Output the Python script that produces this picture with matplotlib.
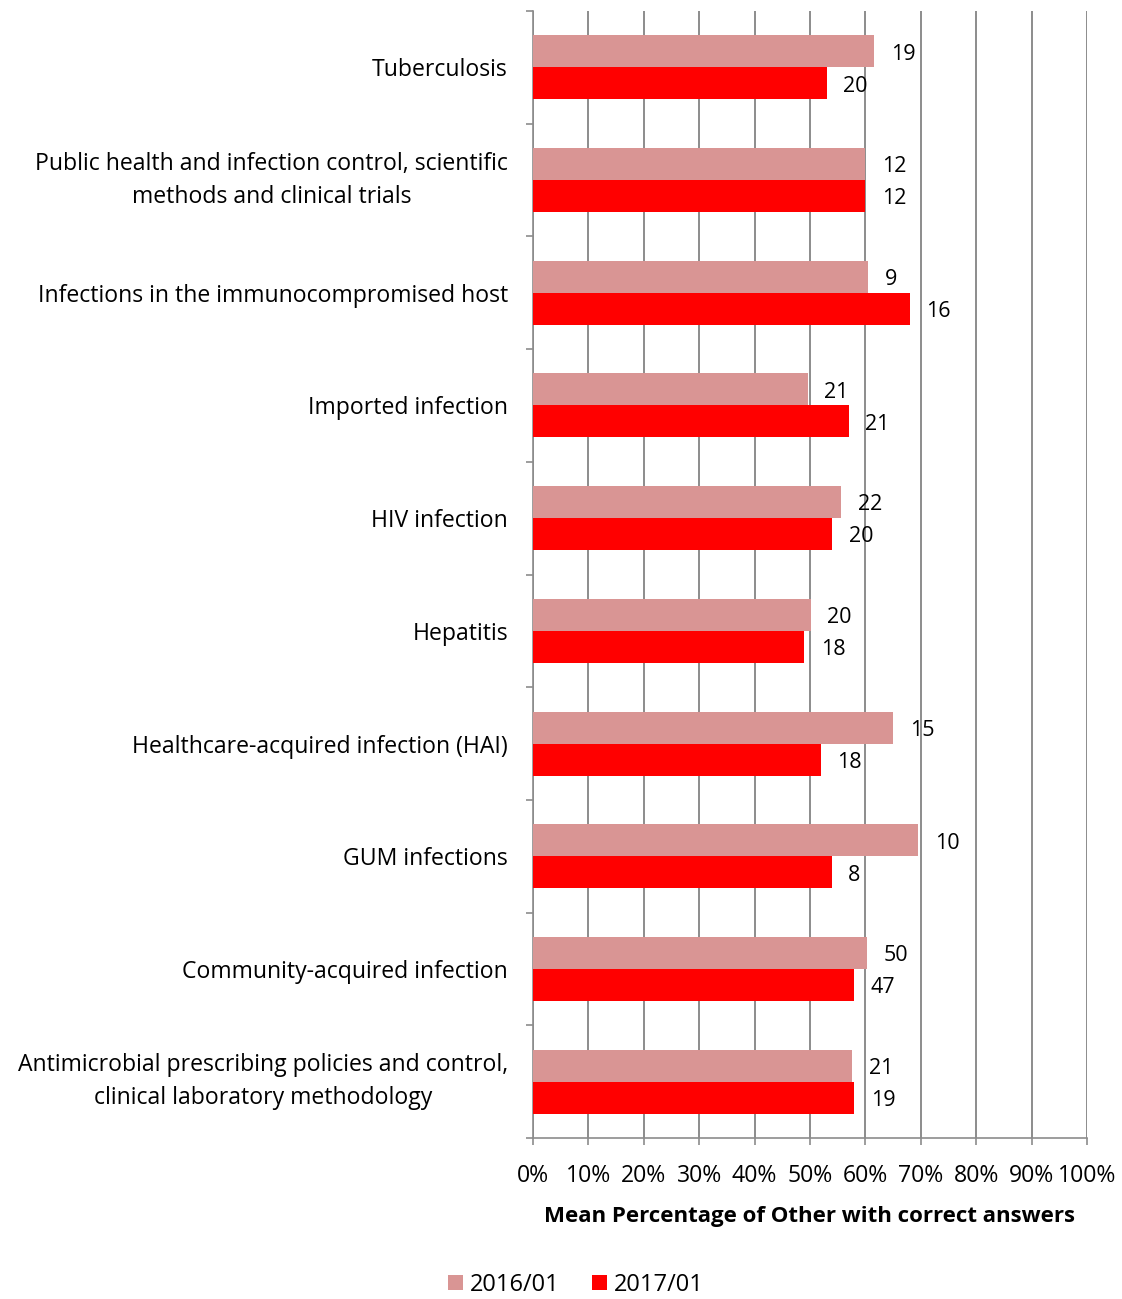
import matplotlib
matplotlib.use("Agg")
import matplotlib.pyplot as plt
import numpy as np

plt.rcParams['font.family'] = ['Open Sans', 'DejaVu Sans']

categories = [
    "Tuberculosis",
    "Public health and infection control, scientific\nmethods and clinical trials",
    "Infections in the immunocompromised host",
    "Imported infection",
    "HIV infection",
    "Hepatitis",
    "Healthcare-acquired infection (HAI)",
    "GUM infections",
    "Community-acquired infection",
    "Antimicrobial prescribing policies and control,\nclinical laboratory methodology",
]
pct_2016 = [61.6, 60.0, 60.5, 49.6, 55.6, 50.1, 65.0, 69.5, 60.3, 57.6]
pct_2017 = [53.0, 60.0, 68.0, 57.0, 54.0, 49.0, 51.9, 53.9, 58.0, 58.0]
n_2016 = [19, 12, 9, 21, 22, 20, 15, 10, 50, 21]
n_2017 = [20, 12, 16, 21, 20, 18, 18, 8, 47, 19]
x_ticks = [0, 10, 20, 30, 40, 50, 60, 70, 80, 90, 100]

c16 = "#D99594"
c17 = "#FF0000"
grid_c = "#8C8C8C"
fs = 16.6

fig = plt.figure(figsize=(11.22, 12.99), dpi=100)
ax = fig.add_axes([533 / 1122, 1 - 1138 / 1299, (1087 - 533) / 1122, (1138 - 11) / 1299])

y = np.arange(len(categories))
h = 0.284
b16 = ax.barh(y - h / 2, pct_2016, height=h, color=c16, label="2016/01", zorder=3)
b17 = ax.barh(y + h / 2, pct_2017, height=h, color=c17, label="2017/01", zorder=3)

for yy, v, n in zip(y - h / 2, pct_2016, n_2016):
    ax.annotate(str(n), xy=(v, yy), xytext=(12, -2), textcoords="offset points",
                ha="left", va="center", fontsize=15.5, zorder=4)
for yy, v, n in zip(y + h / 2, pct_2017, n_2017):
    ax.annotate(str(n), xy=(v, yy), xytext=(12, -2), textcoords="offset points",
                ha="left", va="center", fontsize=15.5, zorder=4)

ax.set_xlim(0, 100)
ax.set_ylim(len(categories) - 0.5, -0.5)
ax.set_xticks(x_ticks)
ax.set_xticklabels([f"{t}%" for t in x_ticks], fontsize=fs)
ax.xaxis.grid(True, color=grid_c, linewidth=1.4, zorder=0)
ax.tick_params(axis="x", length=5, width=1.2, color=grid_c, pad=14)

ax.set_yticks(np.arange(len(categories) + 1) - 0.5)
ax.set_yticklabels([])
ax.set_yticks(y, minor=True)
ax.set_yticklabels(categories, minor=True, fontsize=fs, ha="right", multialignment="center",
                   linespacing=1.5)
for lbl in ax.get_yticklabels(minor=True):
    if "\n" in lbl.get_text():
        lbl.set_va("center")
ax.tick_params(axis="y", which="major", length=5, width=1.2, color=grid_c)
ax.tick_params(axis="y", which="minor", length=0, pad=18)

for s in ["top", "right"]:
    ax.spines[s].set_visible(False)
for s in ["left", "bottom"]:
    ax.spines[s].set_color(grid_c)
    ax.spines[s].set_linewidth(1.2)

ax.set_xlabel("Mean Percentage of Other with correct answers", fontsize=16,
              fontweight="bold", labelpad=13)

fig.legend(handles=[b16, b17], loc="center", bbox_to_anchor=(576 / 1122, 1 - 1285 / 1299),
           ncol=2, frameon=False, fontsize=17, handlelength=0.6, handleheight=0.6,
           handletextpad=0.3, columnspacing=1.4)

fig.savefig("out.png", dpi=100)
